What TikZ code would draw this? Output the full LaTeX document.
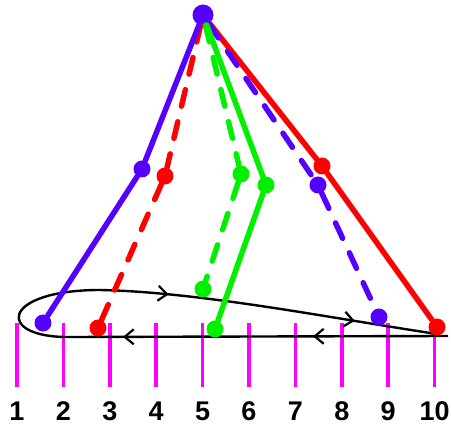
\documentclass[tikz,border=0pt]{standalone}
\usepackage{fontspec}
\setmainfont{Liberation Sans}
\usetikzlibrary{arrows.meta,decorations.markings}
\definecolor{myblue}{RGB}{85,0,255}
\definecolor{myred}{RGB}{255,0,0}
\definecolor{mygreen}{RGB}{0,240,0}
\definecolor{mymag}{RGB}{255,0,255}
\tikzset{barbtip/.tip={Straight Barb[length=9pt,width=15pt,line width=2.2pt]}}
\begin{document}
\begin{tikzpicture}[x=1pt,y=-1pt,
  dot/.style={circle,fill=#1,inner sep=0pt,minimum size=17pt},
  seg/.style={line width=5.5pt,line cap=round,#1},
  dsh/.style={dash pattern=on 17pt off 16pt},
  tickline/.style={mymag,line width=3.5pt},
  lab/.style={font=\fontsize{27}{27}\selectfont\bfseries,inner sep=0pt},
  looppath/.style={line width=2.4pt,postaction={decorate},
    decoration={markings,
      mark=at position 135pt with {\arrow{barbtip}},
      mark=at position 325pt with {\arrow{barbtip}},
      mark=at position 597pt with {\arrow{barbtip}},
      mark=at position 785pt with {\arrow{barbtip}}}}]
\useasboundingbox (0,0) rectangle (451,425);

% ticks and labels
\foreach \i in {1,...,10}{
  \pgfmathsetmacro{\xx}{17+46.4*(\i-1)}
  \draw[tickline] (\xx,323) -- (\xx,387);
  \node[lab] (L\i) at (\xx,411) {\i};
}

% loop
\coordinate (lstart) at (448,336);
\coordinate (lend) at (437,334);
\draw[looppath] (lstart) -- (70,337) .. controls (-5,338) and (0,290) .. (100,290)
   .. controls (200,292) and (330,318) .. (lend);

% dots
\node[dot=myblue,minimum size=21pt] (T) at (203,15) {};
\node[dot=myblue] (m1) at (142,169) {};
\node[dot=myblue] (b1) at (43,323) {};
\node[dot=myred] (m2) at (165,176) {};
\node[dot=myred] (b2) at (98,328) {};
\node[dot=mygreen] (m3) at (241,174) {};
\node[dot=mygreen] (b3) at (203,289) {};
\node[dot=mygreen] (m4) at (266,185) {};
\node[dot=mygreen] (b4) at (215,329) {};
\node[dot=myblue] (m5) at (318,185) {};
\node[dot=myblue] (b5) at (379,317) {};
\node[dot=myred] (m6) at (322,166) {};
\node[dot=myred] (b6) at (437,327) {};

% branches
\draw[seg=myred] (T) -- (m6) -- (b6);
\draw[seg=myblue,dsh] (T) -- (m5) -- (b5);
\draw[seg=mygreen] (T) -- (m4) -- (b4);
\draw[seg=mygreen,dsh] (T) -- (m3) -- (b3);
\draw[seg=myred,dsh] (T) -- (m2) -- (b2);
\draw[seg=myblue] (T) -- (m1) -- (b1);
\end{tikzpicture}
\end{document}
